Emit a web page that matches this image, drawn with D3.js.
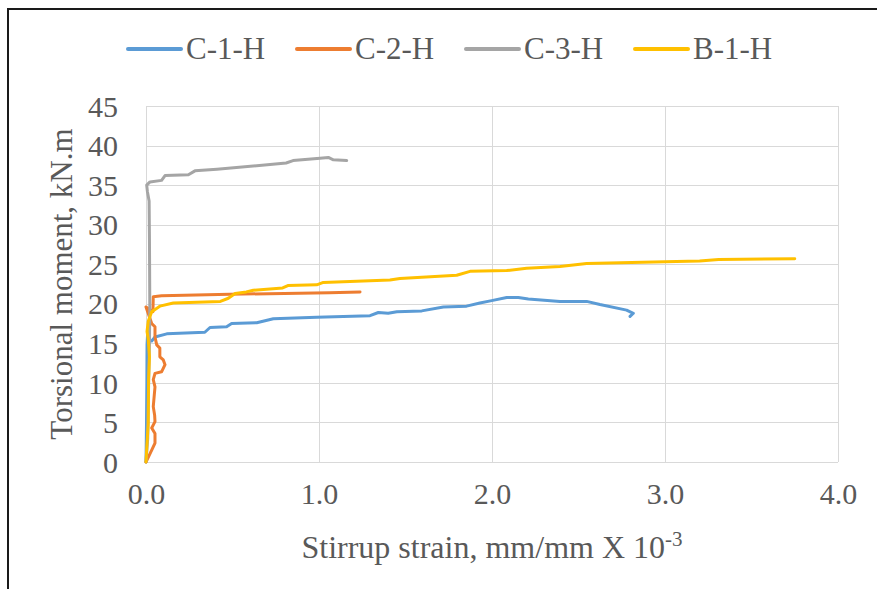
<!DOCTYPE html>
<html>
<head>
<meta charset="utf-8">
<script src="https://cdn.jsdelivr.net/npm/d3@7"></script>
<style>
  body { margin: 0; background: #fff; }
</style>
</head>
<body>
<div id="chart"></div>
<script>
// series names and colours (legend order)
const seriesNames = ["C-1-H", "C-2-H", "C-3-H", "B-1-H"];
const seriesColors = ["#5B9BD5", "#ED7D31", "#A5A5A5", "#FFC000"];

// stirrup strain (mm/mm x 10^-3) and torsional moment (kN.m)
const c1hStrain = [0, 0.003, 0.005, 0.006, 0.01, 0.02, 0.033, 0.052, 0.12, 0.34, 0.37, 0.466, 0.495, 0.64, 0.736, 0.987, 1.295, 1.343, 1.40, 1.45, 1.594, 1.719, 1.853, 1.93, 1.998, 2.085, 2.152, 2.21, 2.393, 2.547, 2.624, 2.778, 2.817, 2.798];
const c1hMoment = [0, 5, 10, 14.8, 16.5, 15.4, 15.3, 15.8, 16.2, 16.4, 17.0, 17.1, 17.5, 17.6, 18.1, 18.3, 18.5, 18.9, 18.8, 19.0, 19.1, 19.6, 19.7, 20.1, 20.4, 20.8, 20.8, 20.6, 20.3, 20.3, 19.9, 19.2, 18.8, 18.4];

const c2hStrain = [0, 0.033, 0.052, 0.052, 0.033, 0.052, 0.05, 0.042, 0.052, 0.042, 0.052, 0.09, 0.11, 0.10, 0.08, 0.08, 0.062, 0.052, 0.052, 0.033, 0.0, 0.04, 0.042, 0.09, 0.485, 1.06, 1.237];
const c2hMoment = [0, 1.5, 2.4, 3.6, 4.3, 5.1, 5.9, 7.0, 9.5, 10.4, 11.2, 11.4, 12.3, 12.9, 13.3, 14.4, 14.8, 15.8, 17.1, 17.5, 19.6, 19.0, 20.9, 21.0, 21.2, 21.4, 21.5];

const c3hStrain = [0, 0.01, 0.015, 0.02, 0.022, 0.02, 0.018, 0.008, 0.004, 0.023, 0.09, 0.11, 0.245, 0.283, 0.41, 0.81, 0.85, 1.006, 1.054, 1.083, 1.16];
const c3hMoment = [0, 3, 10, 15, 20, 28, 33, 34.2, 35.0, 35.4, 35.6, 36.2, 36.3, 36.8, 37.0, 37.8, 38.1, 38.4, 38.5, 38.2, 38.1];

const b1hStrain = [0, 0.005, 0.013, 0.015, 0.02, 0.013, 0.006, 0.013, 0.033, 0.08, 0.158, 0.43, 0.476, 0.515, 0.58, 0.62, 0.79, 0.82, 0.987, 1.025, 1.41, 1.468, 1.796, 1.873, 2.085, 2.2, 2.393, 2.547, 3.0, 3.2, 3.31, 3.75];
const b1hMoment = [0, 2, 4.9, 10.4, 13.3, 15.5, 16.5, 17.8, 19.0, 19.7, 20.1, 20.3, 20.7, 21.3, 21.5, 21.7, 22.0, 22.3, 22.4, 22.7, 23.0, 23.2, 23.6, 24.1, 24.2, 24.5, 24.7, 25.1, 25.3, 25.4, 25.6, 25.7];

// axis ticks
const xTicks = [0, 1, 2, 3, 4];
const yTicks = [0, 5, 10, 15, 20, 25, 30, 35, 40, 45];

const strains = [c1hStrain, c2hStrain, c3hStrain, b1hStrain];
const moments = [c1hMoment, c2hMoment, c3hMoment, b1hMoment];
const series = seriesNames.map((name, i) => ({
  name: name,
  color: seriesColors[i],
  points: strains[i].map((s, j) => ({ x: s, y: moments[i][j] })),
}));

const font = '"Liberation Serif", "Times New Roman", serif';
const textColor = "#595959";

const width = 877, height = 589;
const margin = { top: 106, right: 39, bottom: 127, left: 146 };

const svg = d3
  .select("#chart")
  .append("svg")
  .attr("width", width)
  .attr("height", height)
  .style("font-family", font);

// outer frame
svg
  .append("rect")
  .attr("x", 8)
  .attr("y", 9)
  .attr("width", width + 20)
  .attr("height", height + 20)
  .attr("fill", "none")
  .attr("stroke", "#1a1a1a")
  .attr("stroke-width", 2);

const x = d3.scaleLinear().domain([0, 4]).range([margin.left, width - margin.right]);
const y = d3.scaleLinear().domain([0, 45]).range([height - margin.bottom, margin.top]);

// gridlines
svg
  .append("g")
  .selectAll("line")
  .data(yTicks)
  .join("line")
  .attr("x1", x(0))
  .attr("x2", x(4))
  .attr("y1", (d) => Math.round(y(d)) + 0.5)
  .attr("y2", (d) => Math.round(y(d)) + 0.5)
  .attr("stroke", "#d9d9d9");
svg
  .append("g")
  .selectAll("line")
  .data(xTicks)
  .join("line")
  .attr("x1", (d) => Math.round(x(d)) + 0.5)
  .attr("x2", (d) => Math.round(x(d)) + 0.5)
  .attr("y1", y(0))
  .attr("y2", y(45))
  .attr("stroke", "#d9d9d9");

// y axis
svg
  .append("g")
  .attr("transform", `translate(${x(0) - 28}, 0)`)
  .call(d3.axisLeft(y).tickValues(yTicks).tickSize(0).tickPadding(0))
  .attr("font-family", null)
  .call((g) => g.select(".domain").remove())
  .selectAll("text")
  .style("font-family", font)
  .style("font-size", "30px")
  .attr("fill", textColor)
  .attr("dy", "0.34em");

// x axis
svg
  .append("g")
  .attr("transform", `translate(0, ${y(0) + 21})`)
  .call(d3.axisBottom(x).tickValues(xTicks).tickFormat(d3.format(".1f")).tickSize(0).tickPadding(0))
  .attr("font-family", null)
  .call((g) => g.select(".domain").remove())
  .selectAll("text")
  .style("font-family", font)
  .style("font-size", "30px")
  .attr("fill", textColor)
  .attr("dy", "0.71em");

// axis titles
const xTitle = svg
  .append("text")
  .attr("x", x(2))
  .attr("y", 558)
  .attr("text-anchor", "middle")
  .attr("fill", textColor)
  .style("font-size", "32px");
xTitle.append("tspan").text("Stirrup strain, mm/mm X 10");
xTitle.append("tspan").attr("dy", -12).style("font-size", "21px").text("-3");

svg
  .append("text")
  .attr("transform", `translate(72, ${(y(0) + y(45)) / 2}) rotate(-90)`)
  .attr("text-anchor", "middle")
  .attr("fill", textColor)
  .style("font-size", "31px")
  .text("Torsional moment, kN.m");

// lines
const line = d3
  .line()
  .x((d) => x(d.x))
  .y((d) => y(d.y));

svg
  .append("g")
  .selectAll("path")
  .data(series)
  .join("path")
  .attr("d", (d) => line(d.points))
  .attr("fill", "none")
  .attr("stroke", (d) => d.color)
  .attr("stroke-width", 3)
  .attr("stroke-linejoin", "round")
  .attr("stroke-linecap", "round");

// legend
const legend = svg
  .append("g")
  .selectAll("g")
  .data(series)
  .join("g")
  .attr("transform", (d, i) => `translate(${128 + i * 169}, 49)`);
legend
  .append("line")
  .attr("x1", 0)
  .attr("x2", 53)
  .attr("stroke", (d) => d.color)
  .attr("stroke-width", 4)
  .attr("stroke-linecap", "round");
legend
  .append("text")
  .attr("x", 58)
  .attr("y", 10)
  .attr("fill", textColor)
  .style("font-size", "31px")
  .text((d) => d.name);
</script>
</body>
</html>
